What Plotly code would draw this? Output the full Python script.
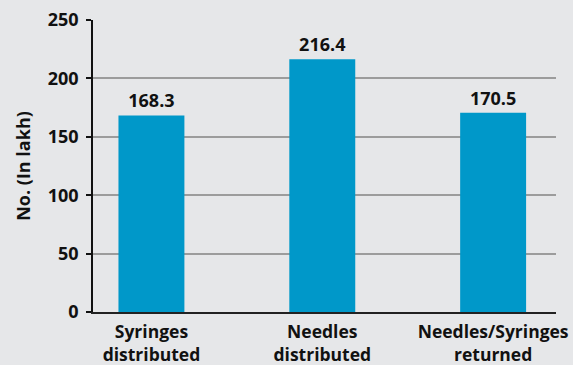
import plotly.graph_objects as go

categories = ["Syringes<br>distributed", "Needles<br>distributed", "Needles/Syringes<br>returned"]
values = [168.3, 216.4, 170.5]
value_labels = ["168.3", "216.4", "170.5"]
y_ticks = [0, 50, 100, 150, 200, 250]

BG = "#e6e7e9"
FONT = "'Open Sans', sans-serif"

fig = go.Figure()
fig.add_trace(go.Bar(
    x=[0, 1, 2], y=values, width=0.386,
    marker=dict(color="#0098c9", line=dict(width=0)),
    text=value_labels, textposition="outside",
    textfont=dict(family=FONT, size=18, color="#111111", weight="bold"),
    cliponaxis=False,
))

fig.update_layout(
    width=573, height=365,
    margin=dict(l=93, r=17, t=20, b=53),
    paper_bgcolor=BG, plot_bgcolor=BG,
    showlegend=False,
    font=dict(family=FONT, color="#111111"),
)
fig.update_xaxes(
    range=[-0.342, 2.368], automargin=False,
    tickmode="array", tickvals=[0, 1, 2], ticktext=categories,
    tickfont=dict(family=FONT, size=17.5, color="#111111", weight="bold"),
    showgrid=False, zeroline=False,
    showline=True, linecolor="#222222", linewidth=1.5,
    ticks="", ticklabelstandoff=3,
)
fig.update_yaxes(
    range=[0, 250], automargin=False,
    tickmode="array", tickvals=y_ticks,
    tickfont=dict(family=FONT, size=18, color="#111111", weight="bold"),
    showgrid=True, gridcolor="#9c9c9c", gridwidth=1.5,
    zeroline=False,
    showline=True, linecolor="#111111", linewidth=1.5,
    ticks="outside", ticklen=5, tickwidth=1.5, tickcolor="#111111",
    ticklabelstandoff=4,
    title=dict(text="No. (In lakh)", font=dict(family=FONT, size=18, color="#111111", weight="bold"), standoff=12),
)

fig.write_html("out.html")
